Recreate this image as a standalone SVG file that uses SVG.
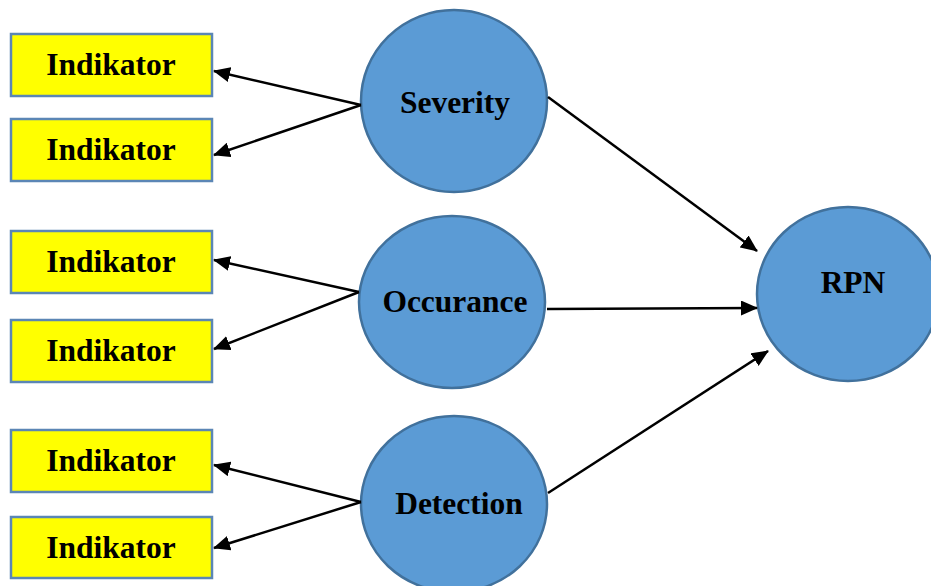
<svg xmlns="http://www.w3.org/2000/svg" width="931" height="586" viewBox="0 0 931 586">
<style>
.box{fill:#FFFF00;stroke:#5B86B5;stroke-width:2.5}
.circ{fill:#5B9BD5;stroke:#41719C;stroke-width:2.5}
.t{font-family:"Liberation Serif","Times New Roman",serif;font-weight:bold;font-size:31.5px;fill:#000;text-anchor:middle}
.c{stroke:#000;stroke-width:2.5;fill:none;marker-end:url(#ah)}
</style>
<defs>
<marker id="ah" viewBox="0 0 17 15" refX="16" refY="7.5" markerWidth="17" markerHeight="15" markerUnits="userSpaceOnUse" orient="auto">
<path d="M0,0 L17,7.5 L0,15 z" fill="#000"/>
</marker>
</defs>
<g id="ind1"><rect class="box" x="11" y="34" width="201" height="62"/><text class="t" x="111" y="75">Indikator</text></g>
<g id="ind2"><rect class="box" x="11" y="119" width="201" height="62"/><text class="t" x="111" y="160">Indikator</text></g>
<g id="ind3"><rect class="box" x="11" y="231" width="201" height="62"/><text class="t" x="111" y="272">Indikator</text></g>
<g id="ind4"><rect class="box" x="11" y="320" width="201" height="62"/><text class="t" x="111" y="361">Indikator</text></g>
<g id="ind5"><rect class="box" x="11" y="430" width="201" height="62"/><text class="t" x="111" y="471">Indikator</text></g>
<g id="ind6"><rect class="box" x="11" y="517" width="201" height="61"/><text class="t" x="111" y="558">Indikator</text></g>
<g id="severity"><ellipse class="circ" cx="454" cy="101" rx="93" ry="91"/><text class="t" x="455" y="113">Severity</text></g>
<g id="occurance"><ellipse class="circ" cx="452" cy="302" rx="93" ry="86"/><text class="t" x="455" y="312">Occurance</text></g>
<g id="detection"><ellipse class="circ" cx="454" cy="504" rx="93" ry="88"/><text class="t" x="459" y="514">Detection</text></g>
<g id="rpn"><ellipse class="circ" cx="848" cy="294" rx="91" ry="87"/><text class="t" x="853" y="293">RPN</text></g>
<g id="connectors">
<line class="c" x1="361" y1="105" x2="214" y2="71"/>
<line class="c" x1="361" y1="105" x2="214" y2="155"/>
<line class="c" x1="359" y1="292" x2="214" y2="260"/>
<line class="c" x1="359" y1="292" x2="214" y2="349"/>
<line class="c" x1="361" y1="502" x2="214" y2="465"/>
<line class="c" x1="361" y1="502" x2="214" y2="548"/>
<line class="c" x1="548" y1="97" x2="757" y2="251"/>
<line class="c" x1="547" y1="309" x2="757" y2="308"/>
<line class="c" x1="548" y1="493" x2="768" y2="351"/>
</g>
</svg>
